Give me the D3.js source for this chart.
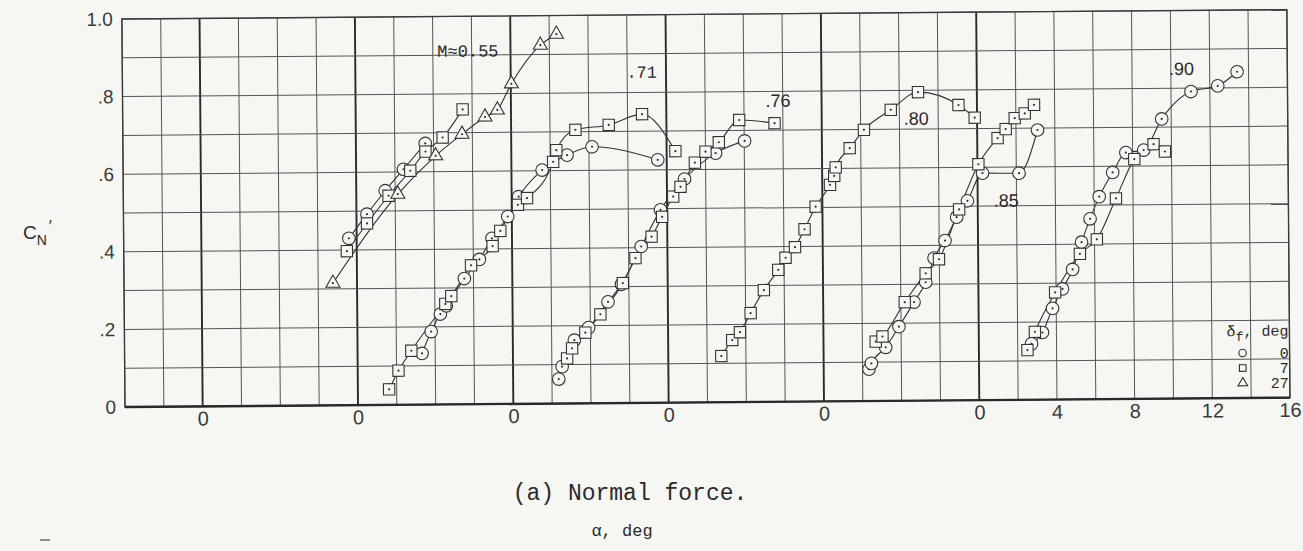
<!DOCTYPE html>
<html>
<head>
<meta charset="utf-8">
<script src="https://cdn.jsdelivr.net/npm/d3@7"></script>
<style>
  html, body { margin: 0; padding: 0; background: #f6f6f3; }
  svg { display: block; }
</style>
</head>
<body>
<div id="chart"></div>
<script>
// Mach numbers, and the shift of each curve's alpha = 0 on the shared axis
const machLabels = ['M\u22480.55', '.71', '.76', '.80', '.85', '.90'];
const machOffsets = [-40, -32, -24, -16, -8, 0];

// flap deflection, deg
const flapLabels = ['0', '7', '27'];

// [alpha (deg), CN']
const m55_d0 = [[7.60, 0.430], [8.54, 0.492], [9.49, 0.552], [10.44, 0.607], [11.57, 0.673]];
const m55_d7 = [[7.49, 0.397], [8.54, 0.468], [9.66, 0.539], [10.79, 0.603], [11.58, 0.652], [12.47, 0.688], [13.51, 0.760]];
const m55_d27 = [[6.76, 0.315], [10.14, 0.543], [12.10, 0.641], [13.47, 0.696], [14.66, 0.740], [15.30, 0.758], [16.03, 0.825], [17.54, 0.924], [18.37, 0.952]];

const m71_d0 = [[3.32, 0.132], [3.80, 0.188], [4.28, 0.233], [4.59, 0.254], [5.53, 0.324], [6.31, 0.373], [6.97, 0.427], [7.79, 0.483], [8.36, 0.534], [9.58, 0.602], [10.87, 0.640], [12.16, 0.661], [15.54, 0.626]];
const m71_d7 = [[1.61, 0.040], [2.10, 0.088], [2.77, 0.139], [4.54, 0.259], [4.85, 0.279], [5.88, 0.358], [7.00, 0.407], [7.40, 0.446], [8.32, 0.513], [8.79, 0.530], [10.15, 0.623], [10.32, 0.653], [11.31, 0.705], [13.03, 0.717], [14.75, 0.744], [16.45, 0.648]];

const m76_d0 = [[2.35, 0.063], [2.53, 0.095], [3.17, 0.163], [3.91, 0.195], [4.92, 0.261], [5.62, 0.306], [6.65, 0.403], [7.66, 0.497], [8.91, 0.576], [10.52, 0.642], [12.02, 0.673]];
const m76_d7 = [[2.79, 0.116], [3.05, 0.142], [3.74, 0.182], [4.52, 0.229], [5.69, 0.309], [6.35, 0.373], [7.19, 0.428], [7.74, 0.479], [8.32, 0.531], [8.70, 0.556], [9.45, 0.618], [10.00, 0.646], [10.69, 0.670], [11.75, 0.727], [13.57, 0.718]];

const m80_d7 = [[2.73, 0.119], [3.30, 0.160], [3.70, 0.180], [4.26, 0.229], [4.95, 0.288], [5.70, 0.340], [6.08, 0.371], [6.57, 0.398], [7.07, 0.444], [7.65, 0.502], [8.40, 0.558], [8.62, 0.581], [8.70, 0.603], [9.43, 0.652], [10.17, 0.699], [11.56, 0.750], [12.97, 0.795], [15.05, 0.761], [15.88, 0.728]];

const m85_d0 = [[2.33, 0.082], [2.46, 0.097], [3.20, 0.138], [3.89, 0.191], [4.68, 0.254], [5.29, 0.305], [5.73, 0.367], [6.30, 0.412], [6.91, 0.472], [7.47, 0.514], [8.26, 0.585], [10.14, 0.584], [11.11, 0.695]];
const m85_d7 = [[2.69, 0.153], [3.04, 0.166], [4.20, 0.254], [5.29, 0.328], [5.98, 0.364], [7.04, 0.492], [8.05, 0.608], [9.05, 0.675], [9.47, 0.698], [9.94, 0.726], [10.46, 0.738], [10.94, 0.760]];

const m90_d0 = [[2.71, 0.144], [3.28, 0.173], [3.81, 0.235], [4.33, 0.285], [4.86, 0.335], [5.33, 0.405], [5.78, 0.465], [6.26, 0.522], [6.96, 0.584], [7.65, 0.635], [8.57, 0.641], [9.51, 0.721], [11.03, 0.791], [12.41, 0.805], [13.41, 0.841]];
const m90_d7 = [[2.50, 0.128], [2.89, 0.175], [3.95, 0.276], [5.24, 0.375], [6.12, 0.412], [7.12, 0.517], [8.08, 0.618], [9.08, 0.656], [9.66, 0.637]];

// axis ticks
const yTickValues = [0, 0.2, 0.4, 0.6, 0.8, 1.0];
const yTickText = ['0', '.2', '.4', '.6', '.8', '1.0'];
const xTickValues = [-40, -32, -24, -16, -8, 0, 4, 8, 12, 16];
const xTickText = ['0', '0', '0', '0', '0', '0', '4', '8', '12', '16'];

// [mach index, flap index, points]
const series = [
  [0, 0, m55_d0], [0, 1, m55_d7], [0, 2, m55_d27],
  [1, 0, m71_d0], [1, 1, m71_d7],
  [2, 0, m76_d0], [2, 1, m76_d7],
  [3, 1, m80_d7],
  [4, 0, m85_d0], [4, 1, m85_d7],
  [5, 0, m90_d0], [5, 1, m90_d7],
];

const paper = '#f6f6f3';
const ink = '#333';
const mono = "'Liberation Mono', 'DejaVu Sans Mono', monospace";
const sans = "'Liberation Sans', Arial, sans-serif";

const width = 1303;
const height = 551;

const svg = d3.select('#chart')
  .append('svg')
  .attr('width', width)
  .attr('height', height)
  .style('background', paper);

const x = d3.scaleLinear().domain([-44, 16]).range([125, 1290]);
const y = d3.scaleLinear().domain([0, 1]).range([407, 19]);

// the scanned sheet sits slightly tilted
const plot = svg.append('g').attr('transform', 'rotate(-0.46,125,407)');

// grid
const grid = plot.append('g').attr('class', 'grid');
grid.selectAll('line.v')
  .data(d3.range(-44, 16.01, 2))
  .join('line')
  .attr('class', 'v')
  .attr('x1', (d) => x(d)).attr('x2', (d) => x(d))
  .attr('y1', y(0)).attr('y2', y(1))
  .attr('stroke', (d) => (machOffsets.includes(d) ? '#2a2a2a' : '#555'))
  .attr('stroke-width', (d) => (machOffsets.includes(d) ? 1.9 : 1));

grid.selectAll('line.h')
  .data(d3.range(0, 1.001, 0.1))
  .join('line')
  .attr('class', 'h')
  .attr('x1', x(-44)).attr('x2', x(16))
  .attr('y1', (d) => y(d)).attr('y2', (d) => y(d))
  .attr('stroke', '#555')
  .attr('stroke-width', 1);

grid.append('rect')
  .attr('x', x(-44)).attr('y', y(1))
  .attr('width', x(16) - x(-44)).attr('height', y(0) - y(1))
  .attr('fill', 'none').attr('stroke', '#3a3a3a').attr('stroke-width', 1.4);

grid.append('line')
  .attr('x1', x(-44)).attr('x2', x(16))
  .attr('y1', y(0)).attr('y2', y(0))
  .attr('stroke', '#2a2a2a').attr('stroke-width', 2.4);

// axes
const xAxis = d3.axisBottom(x)
  .tickValues(xTickValues)
  .tickFormat((d, i) => xTickText[i])
  .tickSize(0)
  .tickPadding(5);

plot.append('g')
  .attr('transform', `translate(0,${y(0)})`)
  .call(xAxis)
  .call((g) => g.select('.domain').remove())
  .selectAll('text')
  .attr('font-family', sans)
  .attr('font-size', 20)
  .attr('fill', '#3a3a3a');

const yAxis = d3.axisLeft(y)
  .tickValues(yTickValues)
  .tickFormat((d, i) => yTickText[i])
  .tickSize(0)
  .tickPadding(9);

plot.append('g')
  .attr('transform', `translate(${x(-44)},0)`)
  .call(yAxis)
  .call((g) => g.select('.domain').remove())
  .selectAll('text')
  .attr('font-family', sans)
  .attr('font-size', 19)
  .attr('fill', '#3a3a3a');

// curves
const line = d3.line()
  .x((d) => d[0])
  .y((d) => d[1])
  .curve(d3.curveMonotoneX);

const project = (m, p) => [x(p[0] + machOffsets[m]), y(p[1])];

plot.append('g')
  .attr('class', 'curves')
  .selectAll('path')
  .data(series)
  .join('path')
  .attr('d', ([m, , pts]) => line(pts.map((p) => project(m, p))))
  .attr('fill', 'none')
  .attr('stroke', ink)
  .attr('stroke-width', 1.1);

// symbols
const symbolTypes = [d3.symbolCircle, d3.symbolSquare, d3.symbolTriangle];
const symbolSizes = [125, 128, 85];

const points = series.flatMap(([m, f, pts]) =>
  pts.map((p) => ({ f, xy: project(m, p) }))
);

const marks = plot.append('g')
  .attr('class', 'marks')
  .selectAll('g')
  .data(points)
  .join('g')
  .attr('transform', (d) => `translate(${d.xy[0]},${d.xy[1]})`);

marks.append('path')
  .attr('d', (d) => d3.symbol(symbolTypes[d.f], symbolSizes[d.f])())
  .attr('fill', paper)
  .attr('stroke', ink)
  .attr('stroke-width', 1.1);

marks.append('circle')
  .attr('r', 1.1)
  .attr('fill', ink);

// Mach number labels, placed at [alpha on the shared axis, CN']
const labelSpots = [[-27.77, 0.896], [-18.04, 0.838], [-10.89, 0.760], [-3.78, 0.711], [0.82, 0.498], [9.9, 0.834]];
const labelFonts = [mono, mono, sans, sans, sans, sans];

plot.append('g')
  .attr('class', 'mach-labels')
  .selectAll('text')
  .data(machLabels)
  .join('text')
  .attr('x', (d, i) => x(labelSpots[i][0]))
  .attr('y', (d, i) => y(labelSpots[i][1]))
  .attr('font-family', (d, i) => labelFonts[i])
  .attr('font-size', (d, i) => (i < 2 ? 17 : 18))
  .attr('fill', '#2a2a2a')
  .text((d) => d);

// legend
const legend = plot.append('g')
  .attr('class', 'legend')
  .attr('font-family', mono)
  .attr('font-size', 15)
  .attr('fill', '#2a2a2a');

const legendTitle = legend.append('text')
  .attr('x', 1289)
  .attr('y', 345)
  .attr('text-anchor', 'end');
legendTitle.append('tspan').text('\u03b4');
legendTitle.append('tspan').attr('dy', 5).attr('font-size', 13).text('f');
legendTitle.append('tspan').attr('dy', -5).text(', deg');

const rows = legend.selectAll('g.row')
  .data(flapLabels)
  .join('g')
  .attr('class', 'row')
  .attr('transform', (d, i) => `translate(0,${362 + i * 15})`);

rows.append('path')
  .attr('transform', 'translate(1243,0)')
  .attr('d', (d, i) => d3.symbol(symbolTypes[i], [44, 44, 40][i])())
  .attr('fill', 'none')
  .attr('stroke', '#2a2a2a')
  .attr('stroke-width', 1.1);

rows.append('text')
  .attr('x', 1289)
  .attr('dy', '0.35em')
  .attr('text-anchor', 'end')
  .text((d) => d);

// y-axis title C_N'
const yTitle = svg.append('text')
  .attr('x', 23)
  .attr('y', 239)
  .attr('font-family', sans)
  .attr('font-size', 19)
  .attr('fill', '#2a2a2a');
yTitle.append('tspan').text('C');
yTitle.append('tspan').attr('dy', 6).attr('font-size', 14).text('N');
yTitle.append('tspan').attr('dy', -13).attr('dx', 2).attr('font-size', 16).text('\u2032');

// caption and x-axis title
svg.append('text')
  .attr('x', 630)
  .attr('y', 500)
  .attr('text-anchor', 'middle')
  .attr('font-family', mono)
  .attr('font-size', 23)
  .attr('fill', '#2a2a2a')
  .text('(a) Normal force.');

svg.append('text')
  .attr('x', 622)
  .attr('y', 536)
  .attr('text-anchor', 'middle')
  .attr('font-family', mono)
  .attr('font-size', 17)
  .attr('fill', '#2a2a2a')
  .text('\u03b1, deg');

svg.append('line')
  .attr('x1', 40).attr('x2', 50)
  .attr('y1', 540).attr('y2', 540)
  .attr('stroke', '#555')
  .attr('stroke-width', 1.3);
</script>
</body>
</html>
